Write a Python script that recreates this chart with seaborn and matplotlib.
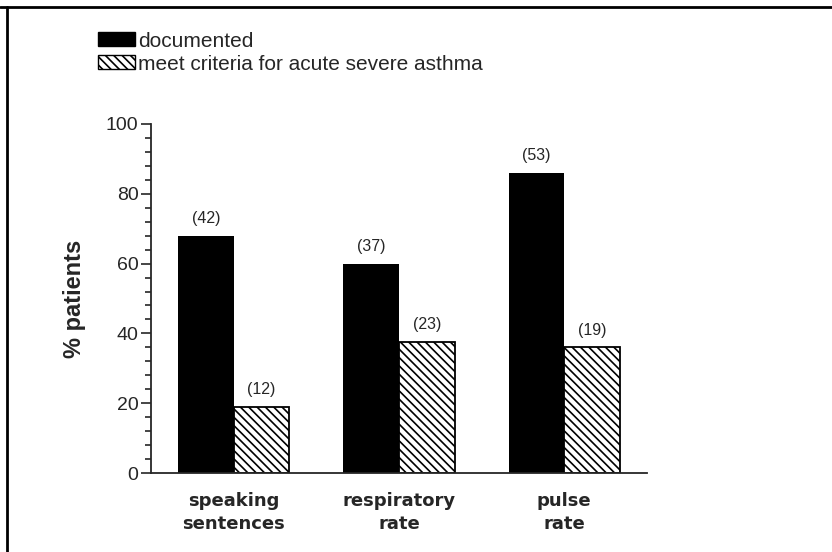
import numpy as np
import pandas as pd
import matplotlib
matplotlib.use("Agg")
import matplotlib.pyplot as plt
from matplotlib.patches import Patch
from matplotlib.lines import Line2D
from matplotlib.ticker import MultipleLocator
import seaborn as sns

categories = ["speaking\nsentences", "respiratory\nrate", "pulse\nrate"]
groups = ["documented", "meet criteria for acute severe asthma"]
documented = [68, 60, 86]
severe = [19, 37.5, 36]
n_documented = ["(42)", "(37)", "(53)"]
n_severe = ["(12)", "(23)", "(19)"]

df = pd.DataFrame({
    "category": categories * 2,
    "group": [groups[0]] * 3 + [groups[1]] * 3,
    "pct": documented + severe,
})

sns.set_style("ticks")
plt.rcParams["font.family"] = ["Liberation Sans", "DejaVu Sans"]
plt.rcParams["hatch.linewidth"] = 1.2

fig = plt.figure(figsize=(8.32, 5.52), dpi=100)
ax = fig.add_axes([0.1815, 0.1431, 0.7776 - 0.1815, 0.7754 - 0.1431])

sns.barplot(data=df, x="category", y="pct", hue="group", hue_order=groups,
            palette=["black", "white"], width=0.675, saturation=1,
            errorbar=None, legend=False, ax=ax)

for bar in ax.containers[0]:
    bar.set_linewidth(0)
for bar in ax.containers[1]:
    bar.set_facecolor("white")
    bar.set_edgecolor("black")
    bar.set_hatch("\\\\\\\\")
    bar.set_linewidth(1.3)

for cont, labels in zip(ax.containers, [n_documented, n_severe]):
    for bar, lab in zip(cont, labels):
        ax.annotate(lab, (bar.get_x() + bar.get_width() / 2, bar.get_height()),
                    xytext=(0, 7), textcoords="offset points",
                    ha="center", va="bottom", fontsize=11.5)

ax.set_xlim(-0.5, 2.5)
ax.set_ylim(0, 100)
ax.yaxis.set_major_locator(MultipleLocator(20))
ax.yaxis.set_minor_locator(MultipleLocator(4))
ax.tick_params(axis="y", which="major", length=7, width=1.2, labelsize=14, pad=2)
ax.tick_params(axis="y", which="minor", length=4, width=1.2)
ax.tick_params(axis="x", length=0, pad=14)
for lab in ax.get_xticklabels():
    lab.set_family(["DejaVu Sans"])
    lab.set_fontweight("bold")
    lab.set_fontsize(13)
    lab.set_linespacing(1.35)
ax.set_xlabel("")
ax.set_ylabel("% patients", fontsize=17, fontweight="bold", labelpad=14)
sns.despine(ax=ax)
ax.spines["left"].set_linewidth(1.3)
ax.spines["bottom"].set_linewidth(1.3)

handles = [Patch(facecolor="black", edgecolor="black", label=groups[0]),
           Patch(facecolor="white", edgecolor="black", hatch="\\\\\\\\", label=groups[1])]
fig.legend(handles=handles, loc="upper left", bbox_to_anchor=(0.108, 0.958),
           frameon=False, fontsize=15, handlelength=1.75, handleheight=0.65,
           handletextpad=0.15, labelspacing=0.2, borderaxespad=0)

fig.add_artist(Line2D([0, 1], [1 - 7 / 552] * 2, color="black", lw=2,
                      transform=fig.transFigure))
fig.add_artist(Line2D([7 / 832] * 2, [0, 1 - 7 / 552], color="black", lw=2,
                      transform=fig.transFigure))

fig.savefig("out.png", dpi=100)
